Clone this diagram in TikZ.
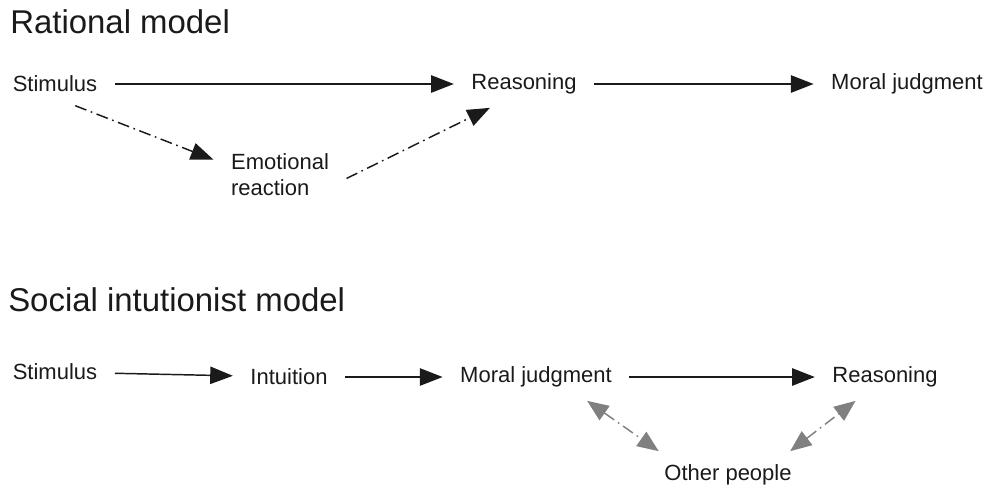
\documentclass[tikz,border=0pt]{standalone}
\usepackage{fontspec}
\setmainfont{Liberation Sans}
\usetikzlibrary{arrows.meta}
\definecolor{ink}{HTML}{1A1A1A}
\definecolor{greyarrow}{HTML}{808080}
\tikzset{
	box/.style={font=\fontsize{16.5}{19.5}\selectfont, text=ink, inner xsep=13pt, inner ysep=10pt},
	heading/.style={font=\fontsize{24.7}{28}\selectfont, text=ink, anchor=west, inner sep=0pt},
	solidarrow/.style={draw=ink, line width=1.1pt, -{Triangle[length=17pt,width=13pt]}},
	dasharrow/.style={draw=ink, line width=1.1pt, dash pattern=on 9pt off 3.5pt on 1.2pt off 3.5pt, -{Triangle[length=17pt,width=13pt]}},
	greyarrow/.style={draw=greyarrow, line width=1.1pt, dash pattern=on 9pt off 3.5pt on 1.2pt off 3.5pt, {Triangle[length=16pt,width=13pt]}-{Triangle[length=16pt,width=13pt]}}
}

\begin{document}
\begin{tikzpicture}[x=0.75pt, y=-0.75pt]
			%%%%% START %%%%%
			\useasboundingbox (0, 0) rectangle (987, 490);
			
			% rational model
			\node[heading] (titleA) at (10, 22) {Rational model};
			\node[box] (stimA) at (55, 84) {Stimulus};
			\node[box] (reasA) at (524, 84) {Reasoning};
			\node[box] (moralA) at (907, 84) {Moral judgment};
			\node[box, align=left] (emo) at (280, 175) {Emotional\\reaction};
			
			\draw[solidarrow] (stimA) -- (reasA);
			\draw[solidarrow] (reasA) -- (moralA);
			\draw[dasharrow] (stimA.-47) -- (emo.167);
			\draw[dasharrow] (emo.-3) -- (reasA.-145);
			
			% social intuitionist model
			\node[heading] (titleB) at (8, 300) {Social intutionist model};
			\node[box] (stimB) at (55, 372) {Stimulus};
			\node[box] (intu) at (289, 377) {Intuition};
			\node[box] (moralB) at (536, 377) {Moral judgment};
			\node[box] (reasB) at (885, 377) {Reasoning};
			\node[box] (other) at (728, 475) {Other people};
			
			\draw[solidarrow] (stimB) -- (intu);
			\draw[solidarrow] (intu) -- (moralB);
			\draw[solidarrow] (moralB) -- (reasB);
			\draw[greyarrow] (moralB.-25) -- (other.161);
			\draw[greyarrow] (other.21) -- (reasB.-141);
			
			%%%%% END %%%%%
\end{tikzpicture}
\end{document}
